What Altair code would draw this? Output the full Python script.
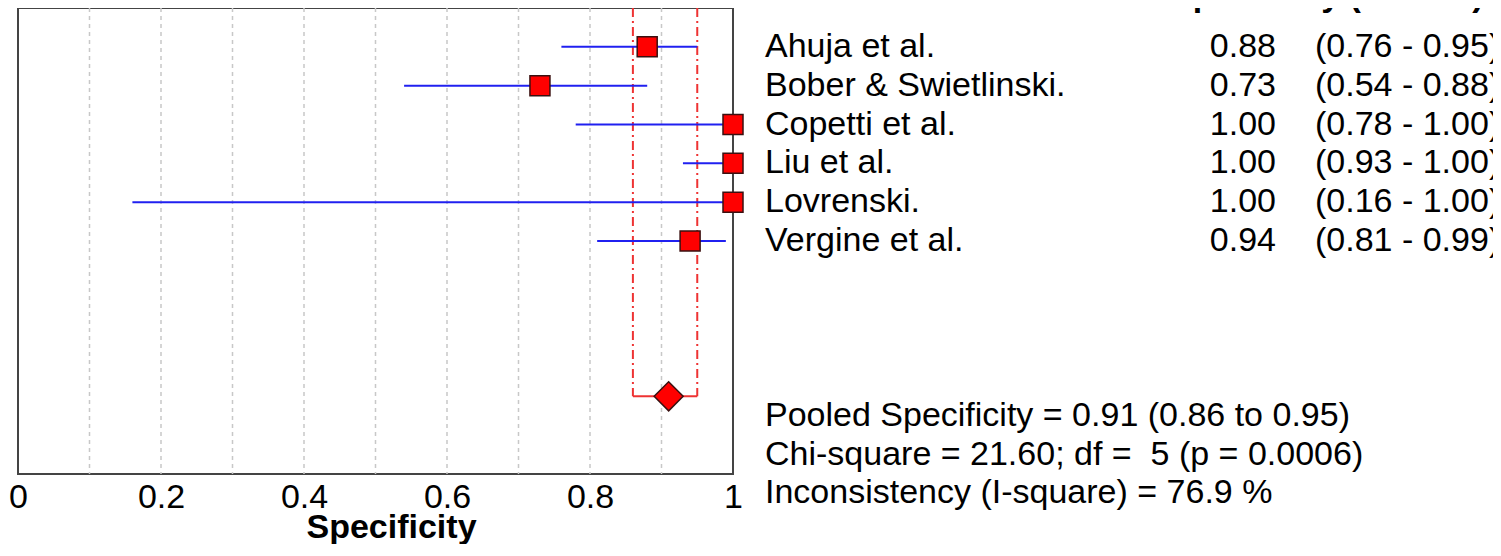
import altair as alt
import pandas as pd

# ---- data ----
STUDIES = ["Ahuja et al.", "Bober & Swietlinski.", "Copetti et al.", "Liu et al.", "Lovrenski.", "Vergine et al."]
ROWS = [0, 1, 2, 3, 4, 5]
SPEC = [0.88, 0.73, 1.00, 1.00, 1.00, 0.94]
CI_LOW = [0.76, 0.54, 0.78, 0.93, 0.16, 0.81]
CI_HIGH = [0.95, 0.88, 1.00, 1.00, 1.00, 0.99]

POOLED = [0.91]
POOLED_LOW = [0.86]
POOLED_HIGH = [0.95]
POOLED_ROW = [9]

STATS_TEXT = [
    "Pooled Specificity = 0.91 (0.86 to 0.95)",
    "Chi-square = 21.60; df = \u00a05 (p = 0.0006)",
    "Inconsistency (I-square) = 76.9 %",
]
STATS_ROW = [9.5, 10.5, 11.5]
HEADER = ["Specificity (95% CI)"]

GRID = [0.1, 0.2, 0.3, 0.4, 0.5, 0.6, 0.7, 0.8, 0.9]
TICKS = [0, 0.2, 0.4, 0.6, 0.8, 1]

FONT = "Liberation Sans"

studies = pd.DataFrame({
    "name": STUDIES,
    "row": ROWS,
    "spec": SPEC,
    "lo": CI_LOW,
    "hi": CI_HIGH,
    "est": [f"{v:.2f}" for v in SPEC],
    "ci": [f"({a:.2f} - {b:.2f})" for a, b in zip(CI_LOW, CI_HIGH)],
})
pooled = pd.DataFrame({"p": POOLED, "lo": POOLED_LOW, "hi": POOLED_HIGH, "row": POOLED_ROW})
pooled_v = pd.DataFrame({"v": POOLED_LOW + POOLED_HIGH, "top": [-1, -1], "row": POOLED_ROW * 2})
stats = pd.DataFrame({"t": STATS_TEXT, "row": STATS_ROW})
header = pd.DataFrame({"t": HEADER})
grid = pd.DataFrame({"g": GRID})

X_SCALE = alt.Scale(domain=[0, 1], nice=False, zero=False)
Y_SCALE = alt.Scale(domain=[-1, 11], reverse=True, nice=False, zero=False)
X_AXIS = alt.Axis(
    values=TICKS, format=".1~f", grid=False, domain=False, ticks=False, tickSize=0,
    labelFontSize=34, labelColor="black", labelPadding=6, labelFlush=False,
    title="Specificity", titleFontSize=34, titleFontWeight="bold", titleColor="black",
    titleX=373, titleY=63, titleAlign="center", titleBaseline="alphabetic",
)


def xq(field):
    return alt.X(f"{field}:Q", scale=X_SCALE, axis=X_AXIS)


def yq(field):
    return alt.Y(f"{field}:Q", scale=Y_SCALE, axis=None)


grid_layer = alt.Chart(grid).mark_rule(color="#c8c8c8", strokeWidth=1.5, strokeDash=[4, 4]).encode(
    x=xq("g")
)

pooled_vlines = alt.Chart(pooled_v).mark_rule(color="#ee3333", strokeWidth=2, strokeDash=[9, 4, 2, 4]).encode(
    x=xq("v"), y=yq("top"), y2="row:Q"
)
pooled_hline = alt.Chart(pooled).mark_rule(color="#ee3333", strokeWidth=2).encode(
    x=xq("lo"), x2="hi:Q", y=yq("row")
)
diamond = alt.Chart(pooled).mark_point(
    shape="diamond", filled=True, fill="#ff0000", stroke="#3a1010", strokeWidth=1.5, size=841, opacity=1
).encode(x=xq("p"), y=yq("row"))

ci_lines = alt.Chart(studies).mark_rule(color="#2020f0", strokeWidth=2).encode(
    x=xq("lo"), x2="hi:Q", y=yq("row")
)
squares = alt.Chart(studies).mark_square(
    size=400, fill="#ff0000", stroke="#3a1010", strokeWidth=1.5, opacity=1
).encode(x=xq("spec"), y=yq("row"))

txt = dict(fontSize=34, color="black", baseline="middle")
names = alt.Chart(studies).mark_text(align="left", **txt).encode(
    x=alt.value(747), y=yq("row"), text="name:N"
)
ests = alt.Chart(studies).mark_text(align="right", **txt).encode(
    x=alt.value(1258), y=yq("row"), text="est:N"
)
cis = alt.Chart(studies).mark_text(align="left", **txt).encode(
    x=alt.value(1297), y=yq("row"), text="ci:N"
)
stats_layer = alt.Chart(stats).mark_text(align="left", **txt).encode(
    x=alt.value(747), y=yq("row"), text="t:N"
)
header_layer = alt.Chart(header).mark_text(
    align="left", baseline="alphabetic", fontSize=34, fontWeight="bold", color="black"
).encode(x=alt.value(1152), y=alt.value(-2), text="t:N")

chart = alt.layer(
    grid_layer, pooled_vlines, pooled_hline, ci_lines, squares, diamond,
    names, ests, cis, stats_layer, header_layer,
).properties(
    width=715, height=466,
    autosize=alt.AutoSizeParams(type="none"),
    padding={"left": 10, "top": 0, "right": 760, "bottom": 70},
).configure(font=FONT).configure_view(stroke="#444444", strokeWidth=2)

chart.save("out.html", embed_options={"renderer": "svg", "actions": False})
